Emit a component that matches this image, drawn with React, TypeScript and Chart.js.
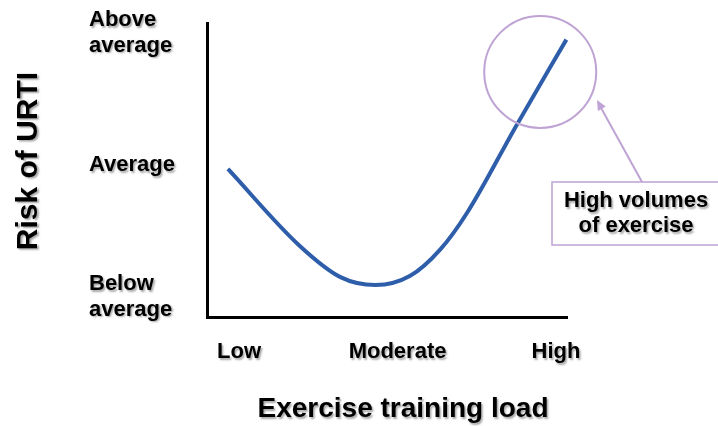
import React, { useEffect, useRef } from "react";
import { Chart, registerables } from "chart.js";

Chart.register(...registerables);

// ---- data ----
const xTickValues = [0, 1, 2];
const xTickLabels = ["Low", "Moderate", "High"];
const yTickValues = [0, 1, 2];
const yTickLabels: string[][] = [["Below", "average"], ["Average"], ["Above", "average"]];

// training load (0 = low, 1 = moderate, 2 = high) vs risk (0 = below, 1 = average, 2 = above)
const curveLoad = [-0.07, 0.38, 0.64, 0.86, 1.08, 1.27, 1.44, 1.75, 2.065];
const curveRisk = [0.97, 0.39, 0.15, 0.09, 0.16, 0.36, 0.64, 1.3, 1.95];

const xTitle = "Exercise training load";
const yTitle = "Risk of URTI";
const calloutLines = ["High volumes", "of exercise"];

const FONT = "'Liberation Sans', Arial, Helvetica, sans-serif";
const LINE_COLOR = "rgb(46,94,170)";
const ANNOT_COLOR = "rgb(190,163,212)";

function setShadow(ctx: CanvasRenderingContext2D) {
  ctx.shadowColor = "rgba(0,0,0,0.35)";
  ctx.shadowOffsetX = 1.5;
  ctx.shadowOffsetY = 1.5;
  ctx.shadowBlur = 2;
}

const shadowPlugin = {
  id: "labelShadow",
  beforeDraw(chart: any) {
    chart.ctx.save();
    setShadow(chart.ctx);
  },
  beforeDatasetsDraw(chart: any) {
    chart.ctx.restore();
  },
};

const annotationPlugin = {
  id: "annotations",
  afterDraw(chart: any) {
    const ctx: CanvasRenderingContext2D = chart.ctx;
    const xs = chart.scales.x;
    const ys = chart.scales.y;
    ctx.save();
    // highlight circle around high training loads
    const cx = xs.getPixelForValue(1.9);
    const cy = ys.getPixelForValue(1.705);
    ctx.strokeStyle = ANNOT_COLOR;
    ctx.lineWidth = 2;
    ctx.beginPath();
    ctx.arc(cx, cy, 56, 0, Math.PI * 2);
    ctx.stroke();

    // callout box
    const bx = 552, by = 182, bw = 170, bh = 63;
    ctx.lineWidth = 1.5;
    ctx.strokeRect(bx, by, bw, bh);

    // arrow
    const ax0 = 642, ay0 = 182, ax1 = 597, ay1 = 100;
    ctx.lineWidth = 2;
    ctx.beginPath();
    ctx.moveTo(ax0, ay0);
    ctx.lineTo(ax1 + 3, ay1 + 6);
    ctx.stroke();
    const ang = Math.atan2(ay1 - ay0, ax1 - ax0);
    const hl = 10, hw = 4.5;
    ctx.fillStyle = ANNOT_COLOR;
    ctx.beginPath();
    ctx.moveTo(ax1, ay1);
    ctx.lineTo(ax1 - hl * Math.cos(ang) + hw * Math.sin(ang), ay1 - hl * Math.sin(ang) - hw * Math.cos(ang));
    ctx.lineTo(ax1 - hl * Math.cos(ang) - hw * Math.sin(ang), ay1 - hl * Math.sin(ang) + hw * Math.cos(ang));
    ctx.closePath();
    ctx.fill();

    // texts with soft shadow
    setShadow(ctx);
    ctx.fillStyle = "#000";
    ctx.textAlign = "center";
    ctx.textBaseline = "alphabetic";
    ctx.font = `bold 22px ${FONT}`;
    ctx.fillText(calloutLines[0], 636, 207);
    ctx.fillText(calloutLines[1], 636, 232);

    ctx.font = `bold 28px ${FONT}`;
    ctx.fillText(xTitle, 403, 417);

    ctx.save();
    ctx.translate(37, 161);
    ctx.rotate(-Math.PI / 2);
    ctx.font = `bold 30px ${FONT}`;
    ctx.fillText(yTitle, 0, 0);
    ctx.restore();
    ctx.restore();
  },
};

export default function App() {
  const ref = useRef<HTMLCanvasElement | null>(null);
  useEffect(() => {
    if (!ref.current) return;
    const chart = new Chart(ref.current, {
      type: "line",
      data: {
        datasets: [
          {
            data: curveLoad.map((x, i) => ({ x, y: curveRisk[i] })),
            borderColor: LINE_COLOR,
            borderWidth: 4,
            pointRadius: 0,
            cubicInterpolationMode: "monotone",
            fill: false,
            clip: false as any,
          },
        ],
      },
      options: {
        responsive: false,
        animation: false,
        events: [],
        layout: { padding: { top: 23, right: 151, left: 89, bottom: 0 } },
        plugins: { legend: { display: false }, tooltip: { enabled: false } },
        scales: {
          x: {
            type: "linear",
            min: -0.202,
            max: 2.069,
            afterFit: (s: any) => {
              s.height = 108.5;
              s.paddingLeft = 0;
              s.paddingRight = 0;
            },
            afterBuildTicks: (s: any) => {
              s.ticks = xTickValues.map((v) => ({ value: v }));
            },
            grid: { display: false, drawTicks: false },
            border: { display: true, color: "#000", width: 3, z: 1 },
            ticks: {
              padding: 22,
              maxRotation: 0,
              autoSkip: false,
              color: "#000",
              font: { family: FONT, size: 22, weight: "bold", lineHeight: 1.15 },
              callback: (v: any) => xTickLabels[xTickValues.indexOf(Number(v))] ?? "",
            },
          },
          y: {
            type: "linear",
            min: -0.156,
            max: 2.076,
            afterFit: (s: any) => {
              s.width = 118;
              s.paddingTop = 0;
              s.paddingBottom = 0;
            },
            afterBuildTicks: (s: any) => {
              s.ticks = yTickValues.map((v) => ({ value: v }));
            },
            grid: { display: false, drawTicks: false },
            border: { display: true, color: "#000", width: 3, z: 1 },
            ticks: {
              padding: 10,
              crossAlign: "far",
              autoSkip: false,
              color: "#000",
              font: { family: FONT, size: 22, weight: "bold", lineHeight: 1.15 },
              callback: (v: any) => yTickLabels[yTickValues.indexOf(Number(v))] ?? "",
            },
          },
        },
      } as any,
      plugins: [shadowPlugin, annotationPlugin],
    });
    return () => chart.destroy();
  }, []);
  return (
    <div style={{ position: "fixed", left: 0, top: 0, width: 718, height: 426, background: "#fff" }}>
      <canvas ref={ref} width={718} height={426} style={{ display: "block" }} />
    </div>
  );
}
